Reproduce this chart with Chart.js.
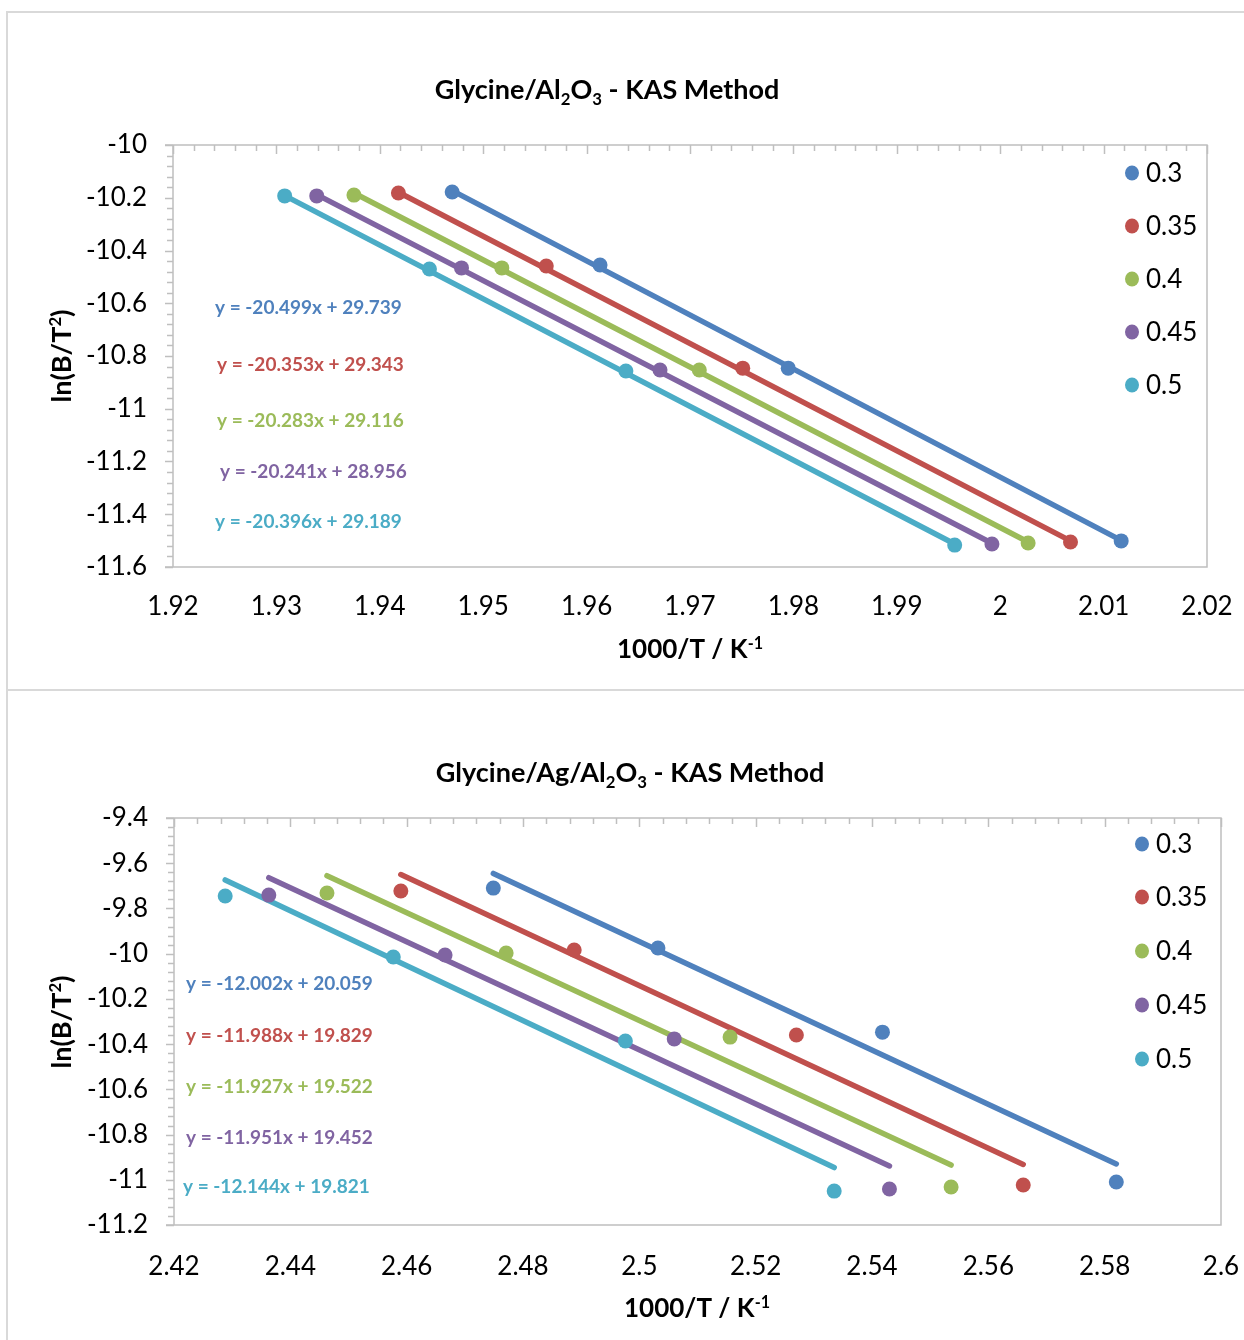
<!DOCTYPE html>
<html>
<head>
<meta charset="utf-8">
<script src="https://cdn.jsdelivr.net/npm/chart.js@4.4.0/dist/chart.umd.min.js"></script>
<style>
html,body{margin:0;padding:0;background:#fff;}
#wrap{position:relative;width:1244px;height:1340px;overflow:hidden;background:#fff;}
.box{position:absolute;border:2px solid #d9d9d9;box-sizing:border-box;}
canvas{position:absolute;left:0;}
</style>
</head>
<body>
<div id="wrap">
  <div class="box" style="left:6px;top:11px;width:1260px;height:680px"></div>
  <div class="box" style="left:6px;top:689px;width:1260px;height:700px"></div>
  <canvas id="c1" width="1244" height="689" style="top:0"></canvas>
  <canvas id="c2" width="1244" height="651" style="top:689px"></canvas>
</div>
<script>
// ---------------- DATA ----------------
const seriesLabels = ['0.3', '0.35', '0.4', '0.45', '0.5'];
const seriesColors = ['#4F81BD', '#C0504D', '#9BBB59', '#8064A2', '#4BACC6'];

// Chart 1: Glycine/Al2O3 - KAS Method (measured points)
const al_x_03  = [1.9470, 1.9613, 1.9795, 2.0117];
const al_y_03  = [-10.178, -10.455, -10.846, -11.501];
const al_x_035 = [1.9418, 1.9561, 1.9751, 2.0068];
const al_y_035 = [-10.182, -10.459, -10.846, -11.505];
const al_x_04  = [1.9375, 1.9518, 1.9709, 2.0027];
const al_y_04  = [-10.190, -10.466, -10.853, -11.509];
const al_x_045 = [1.9339, 1.9479, 1.9671, 1.9992];
const al_y_045 = [-10.193, -10.466, -10.853, -11.513];
const al_x_05  = [1.9308, 1.9448, 1.9638, 1.9956];
const al_y_05  = [-10.193, -10.470, -10.857, -11.517];
// Chart 1 trendline end points
const al_tx_03  = [1.9470, 2.0117]; const al_ty_03  = [-10.173, -11.499];
const al_tx_035 = [1.9418, 2.0068]; const al_ty_035 = [-10.179, -11.501];
const al_tx_04  = [1.9375, 2.0027]; const al_ty_04  = [-10.182, -11.505];
const al_tx_045 = [1.9339, 1.9992]; const al_ty_045 = [-10.188, -11.510];
const al_tx_05  = [1.9308, 1.9956]; const al_ty_05  = [-10.192, -11.513];
const al_equations = ['y = -20.499x + 29.739', 'y = -20.353x + 29.343', 'y = -20.283x + 29.116', 'y = -20.241x + 28.956', 'y = -20.396x + 29.189'];

// Chart 2: Glycine/Ag/Al2O3 - KAS Method (measured points)
const ag_x_03  = [2.4749, 2.5032, 2.5418, 2.5820];
const ag_y_03  = [-9.710, -9.975, -10.347, -11.010];
const ag_x_035 = [2.4590, 2.4888, 2.5270, 2.5660];
const ag_y_035 = [-9.723, -9.984, -10.360, -11.023];
const ag_x_04  = [2.4463, 2.4771, 2.5156, 2.5536];
const ag_y_04  = [-9.732, -9.997, -10.369, -11.032];
const ag_x_045 = [2.4363, 2.4666, 2.5060, 2.5430];
const ag_y_045 = [-9.741, -10.006, -10.377, -11.041];
const ag_x_05  = [2.4288, 2.4577, 2.4976, 2.5335];
const ag_y_05  = [-9.745, -10.015, -10.386, -11.050];
// Chart 2 trendline end points
const ag_tx_03  = [2.4749, 2.5820]; const ag_ty_03  = [-9.645, -10.930];
const ag_tx_035 = [2.4590, 2.5660]; const ag_ty_035 = [-9.650, -10.932];
const ag_tx_04  = [2.4463, 2.5536]; const ag_ty_04  = [-9.655, -10.935];
const ag_tx_045 = [2.4363, 2.5430]; const ag_ty_045 = [-9.664, -10.939];
const ag_tx_05  = [2.4288, 2.5335]; const ag_ty_05  = [-9.674, -10.946];
const ag_equations = ['y = -12.002x + 20.059', 'y = -11.988x + 19.829', 'y = -11.927x + 19.522', 'y = -11.951x + 19.452', 'y = -12.144x + 19.821'];

// Axis tick settings
const al_xTicks = {min: 1.92, max: 2.02, step: 0.01, minor: 0.002};
const al_yTicks = {min: -11.6, max: -10, step: 0.2, minor: 0.04};
const ag_xTicks = {min: 2.42, max: 2.6, step: 0.02, minor: 0.004};
const ag_yTicks = {min: -11.2, max: -9.4, step: 0.2, minor: 0.04};

// ---------------- RENDERING ----------------
const FONT = 'Lato, "Open Sans", "DejaVu Sans", sans-serif';
const AXIS_GRAY = '#bfbfbf';

function drawRich(ctx, parts, x, y, size, align, color, bold) {
  const w = bold ? 'bold ' : '';
  const widths = parts.map(p => {
    const s = p[1] ? size * 0.62 : size;
    ctx.font = w + s + 'px ' + FONT;
    return ctx.measureText(p[0]).width;
  });
  const total = widths.reduce((a, b) => a + b, 0);
  let cx = align === 'center' ? x - total / 2 : (align === 'right' ? x - total : x);
  ctx.fillStyle = color;
  ctx.textAlign = 'left';
  ctx.textBaseline = 'alphabetic';
  parts.forEach((p, i) => {
    const s = p[1] ? size * 0.62 : size;
    ctx.font = w + s + 'px ' + FONT;
    let dy = 0;
    if (p[1] === 'sub') dy = size * 0.22;
    if (p[1] === 'sup') dy = -size * 0.36;
    ctx.fillText(p[0], cx, y + dy);
    cx += widths[i];
  });
}

const decoPlugin = {
  id: 'deco',
  afterDraw(chart, args, opts) {
    const ctx = chart.ctx;
    const ca = chart.chartArea;
    const xs = chart.scales.x, ys = chart.scales.y;
    ctx.save();
    // plot area border + axes
    ctx.strokeStyle = AXIS_GRAY;
    ctx.lineWidth = 1.5;
    ctx.beginPath();
    ctx.moveTo(ca.left - 8, ca.top); ctx.lineTo(ca.right, ca.top);
    ctx.lineTo(ca.right, ca.bottom); ctx.lineTo(ca.left - 8, ca.bottom);
    ctx.moveTo(ca.left, ca.top); ctx.lineTo(ca.left, ca.bottom);
    ctx.stroke();
    // y ticks (outside, left)
    const yt = opts.yTicks;
    const nY = Math.round((yt.max - yt.min) / yt.minor);
    const perMajY = Math.round(yt.step / yt.minor);
    ctx.beginPath();
    for (let i = 0; i <= nY; i++) {
      const v = yt.min + i * yt.minor;
      const py = Math.round(ys.getPixelForValue(v)) + 0.5;
      const len = (i % perMajY === 0) ? 8 : 6;
      ctx.moveTo(ca.left - len, py); ctx.lineTo(ca.left, py);
    }
    // x ticks (top axis, pointing into the plot)
    const xt = opts.xTicks;
    const nX = Math.round((xt.max - xt.min) / xt.minor);
    const perMajX = Math.round(xt.step / xt.minor);
    for (let i = 0; i <= nX; i++) {
      const v = xt.min + i * xt.minor;
      const px = Math.round(xs.getPixelForValue(v)) + 0.5;
      const len = (i % perMajX === 0) ? 9 : 6;
      ctx.moveTo(px, ca.top); ctx.lineTo(px, ca.top + len);
    }
    ctx.stroke();

    // title
    drawRich(ctx, opts.title, opts.titlePos[0], opts.titlePos[1], 27, 'center', '#000', true);
    // x title
    drawRich(ctx, opts.xTitle, opts.xTitlePos[0], opts.xTitlePos[1], 26, 'center', '#000', true);
    // y title (rotated)
    ctx.save();
    ctx.translate(opts.yTitlePos[0], opts.yTitlePos[1]);
    ctx.rotate(-Math.PI / 2);
    drawRich(ctx, opts.yTitle, 0, 0, 27, 'center', '#000', true);
    ctx.restore();

    // equations
    opts.equations.forEach((eq, i) => {
      const p = opts.eqPos[i];
      ctx.font = 'bold 19px ' + FONT;
      ctx.fillStyle = seriesColors[i];
      ctx.textAlign = 'left';
      ctx.textBaseline = 'middle';
      ctx.fillText(eq, p[0], p[1]);
    });

    // legend (series marker datasets)
    const pts = chart.data.datasets.filter(d => d.isPoints);
    pts.forEach((d, i) => {
      const lx = opts.legendX, ly = opts.legendY[i];
      ctx.fillStyle = d.backgroundColor;
      ctx.beginPath();
      ctx.ellipse(lx, ly, 7, 7.5, 0, 0, Math.PI * 2);
      ctx.fill();
      ctx.font = '26px ' + FONT;
      ctx.fillStyle = '#000';
      ctx.textAlign = 'left';
      ctx.textBaseline = 'middle';
      ctx.fillText(d.label, lx + 14, ly + 1);
    });
    ctx.restore();
  }
};

function buildDatasets(xs, ys, txs, tys) {
  const ds = [];
  for (let i = 0; i < xs.length; i++) {
    ds.push({
      label: seriesLabels[i], isPoints: true,
      data: xs[i].map((x, j) => ({x: x, y: ys[i][j]})),
      showLine: false, pointRadius: 7.5, pointHoverRadius: 7.5,
      pointBackgroundColor: seriesColors[i], backgroundColor: seriesColors[i],
      pointBorderWidth: 0, borderColor: seriesColors[i], order: 0
    });
    ds.push({
      label: seriesLabels[i] + ' trend',
      data: txs[i].map((x, j) => ({x: x, y: tys[i][j]})),
      showLine: true, pointRadius: 0, pointHoverRadius: 0,
      borderColor: seriesColors[i], borderWidth: 5.5, borderCapStyle: 'round',
      fill: false, order: 1
    });
  }
  return ds;
}

function fmt(d) { return v => String(Number(v.toFixed(d))); }

function makeChart(id, datasets, xt, yt, layoutPad, yWidth, xHeight, xTickGap, deco) {
  return new Chart(document.getElementById(id), {
    type: 'scatter',
    data: {datasets: datasets},
    options: {
      responsive: false, animation: false, events: [],
      layout: {padding: layoutPad},
      plugins: {legend: {display: false}, title: {display: false}, tooltip: {enabled: false}, deco: deco},
      scales: {
        x: {
          type: 'linear', position: 'bottom', min: xt.min, max: xt.max,
          grid: {display: false, drawTicks: true, tickLength: xTickGap}, border: {display: false},
          ticks: {stepSize: xt.step, autoSkip: false, maxRotation: 0, padding: 0,
                  color: '#000', font: {family: FONT, size: 26}, callback: fmt(2)},
          afterFit: s => { s.height = xHeight; }
        },
        y: {
          type: 'linear', position: 'left', min: yt.min, max: yt.max,
          grid: {display: false, drawTicks: true, tickLength: 26}, border: {display: false},
          ticks: {stepSize: yt.step, autoSkip: false, padding: 0,
                  color: '#000', font: {family: FONT, size: 26}, callback: fmt(1)},
          afterFit: s => { s.width = yWidth; }
        }
      }
    },
    plugins: [decoPlugin]
  });
}

makeChart('c1',
  buildDatasets([al_x_03, al_x_035, al_x_04, al_x_045, al_x_05],
                [al_y_03, al_y_035, al_y_04, al_y_045, al_y_05],
                [al_tx_03, al_tx_035, al_tx_04, al_tx_045, al_tx_05],
                [al_ty_03, al_ty_035, al_ty_04, al_ty_045, al_ty_05]),
  al_xTicks, al_yTicks,
  {left: 0, top: 145, right: 37, bottom: 62}, 173, 60, 24,
  {
    xTicks: al_xTicks, yTicks: al_yTicks,
    title: [['Glycine/Al'], ['2', 'sub'], ['O'], ['3', 'sub'], [' - KAS Method']], titlePos: [607, 99],
    xTitle: [['1000/T / K'], ['-1', 'sup']], xTitlePos: [690, 658],
    yTitle: [['ln(B/T'], ['2', 'sup'], [')']], yTitlePos: [71, 356],
    equations: al_equations,
    eqPos: [[215, 308], [217, 365], [217, 421], [220, 472], [215, 522]],
    legendX: 1132, legendY: [173, 226, 279, 332, 385]
  });

makeChart('c2',
  buildDatasets([ag_x_03, ag_x_035, ag_x_04, ag_x_045, ag_x_05],
                [ag_y_03, ag_y_035, ag_y_04, ag_y_045, ag_y_05],
                [ag_tx_03, ag_tx_035, ag_tx_04, ag_tx_045, ag_tx_05],
                [ag_ty_03, ag_ty_035, ag_ty_04, ag_ty_045, ag_ty_05]),
  ag_xTicks, ag_yTicks,
  {left: 0, top: 129, right: 23, bottom: 55}, 174, 60, 26,
  {
    xTicks: ag_xTicks, yTicks: ag_yTicks,
    title: [['Glycine/Ag/Al'], ['2', 'sub'], ['O'], ['3', 'sub'], [' - KAS Method']], titlePos: [630, 93],
    xTitle: [['1000/T / K'], ['-1', 'sup']], xTitlePos: [697, 628],
    yTitle: [['ln(B/T'], ['2', 'sup'], [')']], yTitlePos: [71, 333],
    equations: ag_equations,
    eqPos: [[186, 295], [186, 347], [186, 398], [186, 449], [183, 498]],
    legendX: 1142, legendY: [155, 208, 262, 316, 370]
  });
</script>
</body>
</html>
